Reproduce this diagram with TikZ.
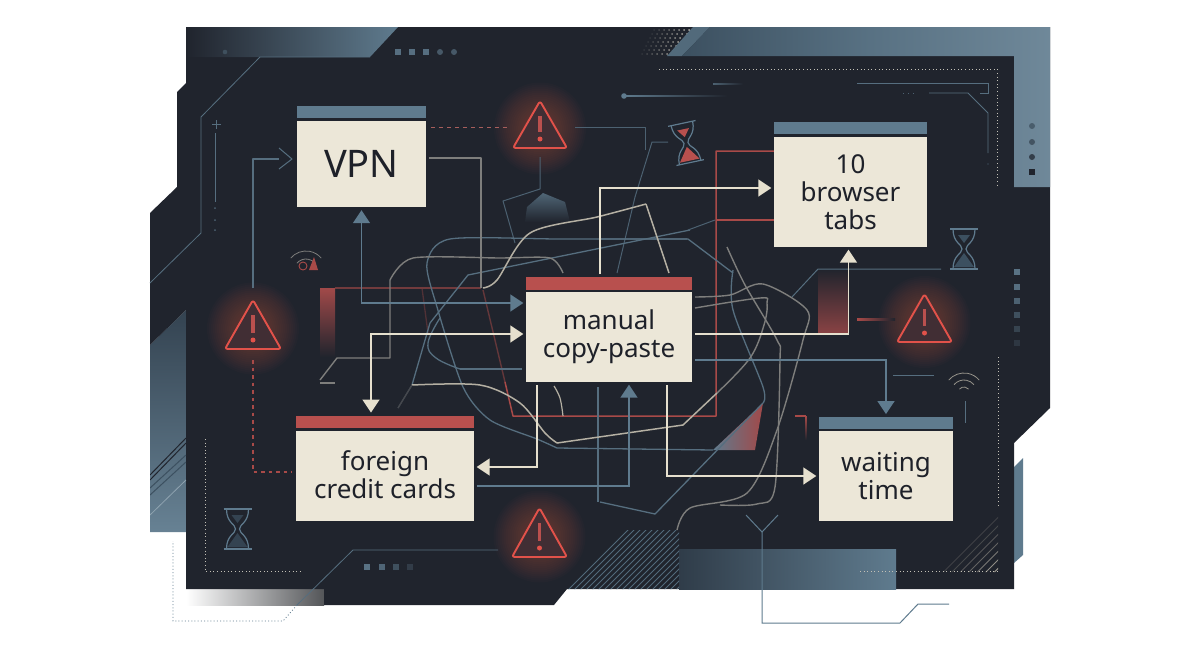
\documentclass[tikz,border=0pt]{standalone}
\usepackage{fontspec}
\setmainfont{Noto Sans}
\usetikzlibrary{arrows.meta,calc}
\definecolor{bgd}{HTML}{20242D}
\definecolor{sl}{HTML}{5F7B8E}
\definecolor{sld}{HTML}{3C5060}
\definecolor{crm}{HTML}{ECE7D8}
\definecolor{crml}{HTML}{E6E0CE}
\definecolor{rd}{HTML}{B8504E}
\definecolor{rdw}{HTML}{A84A48}
\definecolor{alert}{HTML}{E2524A}
\definecolor{gy}{HTML}{7E7E7C}
\definecolor{gyc}{HTML}{B5B0A3}
\definecolor{ink}{HTML}{1E2129}
\pgfdeclarelayer{front}
\pgfsetlayers{main,front}
\tikzset{
 hdr/.style={draw=none,inner sep=0pt,minimum height=12.5pt},
 hblue/.style={hdr,fill=sl},
 hred/.style={hdr,fill=rd},
 body/.style={draw=none,fill=crm,inner sep=0pt,align=center,text=ink,font=\fontsize{26}{28}\selectfont},
 bluearr/.style={draw=sl,line width=1.7pt,-{Triangle[length=13pt,width=17pt]},shorten >=2.5pt,shorten <=3pt},
 crmarr/.style={draw=crml,line width=1.7pt,-{Triangle[length=13pt,width=17pt]},shorten >=2.5pt,shorten <=3pt},
 wireb/.style={draw=sl!85!bgd,line width=1.3pt,line join=round},
 wirebd/.style={draw=sl!70!bgd,line width=1pt,line join=round},
 wireg/.style={draw=gy,line width=1.4pt,line join=round},
 wirec/.style={draw=gyc,line width=1.5pt,line join=round},
 wirer/.style={draw=rdw,line width=1.5pt,line join=round},
 thinb/.style={draw=sl!85!bgd,line width=.8pt},
 dotc/.style={draw=crm!80!bgd,line width=1pt,dash pattern=on 1pt off 2.6pt},
}
\newcommand{\warnglow}[3]{% cx, apex y, base y
 \foreach \r in {12,14,...,46} \fill[rd,opacity=.03] (#1,{(#2+#3)/2+4}) circle (\r);
}
\newcommand{\warnicon}[4]{% cx, apex y, base y, half width
 \draw[draw=alert,fill=rd!22!bgd,line width=1.9pt,line join=round,rounded corners=2.5pt] (#1,#2) -- (#1+#4,#3) -- (#1-#4,#3) -- cycle;
 \draw[rd!95!alert,line width=3.2pt] (#1,#2+15) -- (#1,#3-16);
 \fill[alert] (#1,#3-9) circle (2.5);
}
\newcommand{\hourglassicon}[4]{% cx, cy, rotation, sand colour
 \begin{scope}[shift={(#1,#2)},rotate=#3]
  \fill[#4] (-6,-14) -- (6,-14) -- (0,-6) -- cycle;
  \fill[#4] (0,4) -- (10,18) -- (-10,18) -- cycle;
  \draw[sl,line width=1.2pt] (-14,-20) -- (14,-20) (-14,20) -- (14,20);
  \draw[sl,line width=1.2pt] (-11,-20) .. controls (-11,-6) and (-2,-5) .. (-2,0) .. controls (-2,5) and (-11,6) .. (-11,20);
  \draw[sl,line width=1.2pt] (11,-20) .. controls (11,-6) and (2,-5) .. (2,0) .. controls (2,5) and (11,6) .. (11,20);
 \end{scope}
}
\begin{document}
\begin{tikzpicture}[x=1pt,y=-1pt]
\useasboundingbox (0,0) rectangle (1200,670);
\fill[white] (0,0) rectangle (1200,670);
% boxes
\begin{pgfonlayer}{front}
\node[hblue,minimum width=129pt] (vhead) at (361.5,112) {};
\node[body,minimum width=129pt,minimum height=86pt,font=\fontsize{38}{40}\selectfont] (vpn) at (361.5,164) {VPN};
\node[hblue,minimum width=153pt] (thead) at (850.5,128) {};
\node[body,minimum width=153pt,minimum height=110pt] (tabs) at (850.5,192) {10\\browser\\tabs};
\node[hred,minimum width=166pt] (mhead) at (609,283.5) {};
\node[body,minimum width=166pt,minimum height=90pt] (manual) at (609,337) {\raisebox{-2pt}{manual}\\\raisebox{-2pt}{copy-paste}};
\node[hred,minimum width=178pt] (fhead) at (385,422) {};
\node[body,minimum width=178pt,minimum height=90pt] (foreign) at (385,476) {\raisebox{2pt}{foreign}\\\raisebox{2pt}{credit cards}};
\node[hblue,minimum width=134pt] (whead) at (886,423) {};
\node[body,minimum width=134pt,minimum height=90pt] (waiting) at (886,476) {waiting\\time};
\end{pgfonlayer}
% left slate panel
\shade[top color=sld!70!bgd,bottom color=sl!95!white] (186,310) -- (150,345) -- (150,532) -- (186,532) -- cycle;
% right slate sliver
\fill[sl] (1014,467) -- (1023,458) -- (1023,555) -- (1014,563) -- cycle;
% bottom grey fade
\shade[left color=white,right color=gy!55!bgd] (186,589) rectangle (324,605);
% main dark plate
\fill[bgd] (186,27) -- (1050,27) -- (1050,408) -- (1014,443) -- (1014,589) -- (567,589) -- (554,605) -- (324,605) -- (324,589) -- (186,589) -- (186,532) -- (186,345) -- (186,310) -- (150,345) -- (150,213) -- (177,187) -- (177,92) -- (186,83) -- cycle;
% top-left slate
\shade[left color=bgd,right color=sl] (186,27) -- (398,27) -- (370,57) -- (186,57) -- cycle;
% top-right slate
\fill[sl!80!bgd] (667,56) -- (693,27) -- (710,27) -- (682,56) -- cycle;
\shade[left color=sld,right color=sl!90!white,middle color=sl!88!bgd] (682,56) -- (710,27) -- (1050,27) -- (1050,187) -- (1014,187) -- (1014,56) -- cycle;
% bottom slate
\shade[left color=sld!55!bgd,right color=sl] (679,549) rectangle (896,589);
% halftone
\begin{scope}
 \clip (600,27) -- (693,27) -- (667,56) -- (600,56) -- cycle;
 \foreach \i in {0,...,17} \foreach \j in {0,...,6} {
  \pgfmathsetmacro{\op}{max(0,min(1,(\i-5)/11))}
  \fill[crm,opacity=\op] ({612+5*\i+2*\j},{54-4*\j}) circle (1);
 }
\end{scope}
% left hatching
\begin{scope}
 \clip (150,345) rectangle (186,532);
 \draw[bgd,line width=1pt] (150,475) -- (186,438) (150,480) -- (186,443);
 \draw[sld,line width=1pt] (150,488) -- (186,455) (150,495) -- (186,462);
 \draw[sl!70!white,line width=.8pt] (150,515) -- (186,480);
\end{scope}
% bottom hatch
\begin{scope}
 \clip (567,589) -- (627,530) -- (679,530) -- (679,589) -- cycle;
 \foreach \i in {0,...,26} \draw[sl!80!bgd,line width=.9pt] ({560+6*\i},592) -- ({625+6*\i},527);
\end{scope}
% right hatch
\begin{scope}
 \clip (940,572) -- (998,512) -- (998,572) -- cycle;
 \foreach \i/\c in {0/15,1/20,2/25,3/35,4/45,5/60,6/75,7/90} \draw[gyc!\c!bgd,line width=1pt] ({930+8.5*\i},577) -- ({1000+8.5*\i},507);
\end{scope}
% glows
\warnglow{540}{101}{148}
\warnglow{253}{300}{349}
\warnglow{924.5}{294}{342}
\warnglow{539.5}{508}{557}
% frame lines
\draw[thinb] (150,283) -- (201,233) -- (201,117) -- (260,57) -- (370,57);
\draw[thinb] (498,550) -- (353,550) -- (297,605);
\draw[sl,line width=.8pt,dash pattern=on 1pt off 2.2pt] (297,605) -- (283,621) -- (173,621) -- (173,541);
\draw[thinb,line width=.7pt] (216,120) -- (216,129) (212,124) -- (221,124) (215,133) -- (215,202);
\foreach \y in {208,220,230} \fill[sl!70!bgd] (215,\y) circle (1);
\fill[sl!50!bgd] (225,52) circle (2.3);
\foreach \x in {398,412,426} \fill[sl!85!bgd] (\x-3,49) rectangle (\x+3,55);
\foreach \x in {440,454} \fill[sl!60!bgd] (\x,52) circle (3);
\foreach \x/\c in {367/90,382/75,396/50,410/28} \fill[sl!\c!bgd] (\x-3,564) rectangle (\x+3,570);
\foreach \y/\c in {272/90,287/85,301/70,315/50,329/35,343/22} \fill[sl!\c!bgd] (1014,\y-3) rectangle (1020,\y+3);
\foreach \y/\c in {126/35,142/45,157/70} \fill[bgd!\c!sl] (1032,\y) circle (3);
\fill[bgd] (1029,169) rectangle (1035,175);
% top right details
\draw[dotc] (659,69) -- (997,69) -- (997,185);
\draw[dotc] (998,357) -- (998,508);
\draw[dotc] (860,571) -- (998,571);
\draw[dotc] (205,439) -- (205,571) -- (303,571);
\shade[left color=sl!70!bgd,right color=bgd] (713,83) rectangle (743,84);
\fill[sl] (624,96) circle (2.8);
\shade[left color=sl,right color=bgd] (624,95.5) rectangle (727,96.5);
\draw[thinb] (857,83) -- (988,83) -- (988,93) -- (980,93);
\draw[thinb] (929,93) -- (968,93) -- (988,113) -- (988,153);
\draw[sl!70!bgd,line width=.8pt,dash pattern=on 1pt off 4pt] (903,93) -- (917,93);
\fill[sl!80!bgd] (988,164) circle (.7);
% red panels and faded bits
\shade[top color=rd!85!bgd,bottom color=bgd] (320,288) rectangle (335,357);
\shade[top color=bgd,bottom color=rd!70!bgd] (818,269) rectangle (848,334);
\draw[draw=rdw!35!bgd,line width=1.3pt] (422,288) -- (428,333);
\draw[rdw,line width=1.4pt] (795,416) -- (806,416);
\shade[top color=rdw,bottom color=bgd] (805.3,416) rectangle (806.8,440);
\shade[left color=rdw,right color=bgd] (857,318) rectangle (895,320);
% slate triangle
\shade[left color=sl,right color=rd!85!bgd] (713,450) -- (763,403) -- (755,450) -- cycle;
% pentagon
\shade[top color=sl!75!bgd,bottom color=bgd] (527,207) -- (543,193) -- (565,202) -- (570,222) -- (525,222) -- cycle;
% wires
\draw[draw=rdw!60!bgd,line width=1.4pt] (335,288) -- (481,288);
\draw[draw=rdw!50!bgd,line width=1.4pt] (483,290) -- (505,382);
\draw[wirer] (505,382) -- (513,416) -- (716,416) -- (716,151) -- (tabs.west |- 0,151);
\draw[wirer] (716,220) -- (tabs.west |- 0,220);
\draw[wireb] (253,288) |- (279,159);
\draw[wireb,line width=1pt] (279,148) -- (292,159) -- (279,169);
\draw[wirebd] (575,127) -- (645,127) -- (645,150);
\draw[wirebd] (668,142) -- (652,142) -- (635,197) -- (617,273);
\draw[wirebd] (540,157) -- (540,189) -- (503,201) -- (515,243);
\draw[wireb] plot[smooth,tension=.45] coordinates {(687,239) (560,239) (450,239) (427,263) (437,307) (463,387) (490,420) (537,439) (557,448)};
\draw[wireb] (557,448) -- (713,450);
\draw[wireb] (600,239) -- (688,239) -- (733,273);
\draw[wireb] plot[smooth,tension=.5] coordinates {(733,270) (733,310) (763,387) (763,403)};
\draw[wireb] (690,230) -- (468,275) -- (430,323) -- (412,385);
\draw[draw=sl!40!bgd,line width=1.2pt] (412,385) -- (398,408);
\draw[wireb] (522,369) -- (460,369);
\draw[wireb] plot[smooth,tension=.7] coordinates {(460,369) (436,358) (428,343) (440,318)};
\draw[wireb] (600,502) -- (655,514) -- (763,403);
\draw[wireb] (598,387) -- (598,502);
\draw[wireg] plot[smooth,tension=.45] coordinates {(563,273) (550,258) (500,258) (413,258) (390,280)};
\draw[wireg] (390,280) -- (390,358) -- (337,358) -- (320,380);
\draw[wireg] (320,383) -- (335,383);
\draw[wireg] (429,158) -- (481,158) -- (481,288);
\draw[wirec] plot[smooth,tension=.5] coordinates {(483,288) (497,280) (530,233) (597,217) (646,204)};
\draw[wirec] (646,204) -- (669,273);
\draw[wirebd] (688,230) -- (715,220);
\draw[wirec] plot[smooth,tension=.5] coordinates {(412,385) (480,385) (520,403) (545,433) (557,443)};
\draw[wirec] (557,443) -- (683,425) -- (717,393);
\draw[wireg] plot[smooth,tension=.6] coordinates {(717,393) (750,358) (764,325) (767,303) (760,298) (695,308)};
\draw[draw=gy!40!bgd,line width=1.3pt] (412,385) -- (398,408);
\draw[wireg] plot[smooth,tension=.5] coordinates {(695,297) (730,295) (763,284) (807,310) (803,340) (777,430) (747,493) (690,508) (677,530)};
\draw[wireg] plot[smooth,tension=.5] coordinates {(727,247) (745,285) (777,340) (780,360) (775,487) (757,504) (720,505)};
\draw[draw=gyc,line width=1.2pt] plot[smooth,tension=.6] coordinates {(554,386) (560,398) (563,416)};
\draw[thinb,line width=1pt] (792,297) -- (818,269) -- (941,269);
\draw[thinb,line width=1pt] (893,375) -- (934,375) (965,401) -- (965,423);
% antenna
\draw[draw=sl,line width=1pt] (746,515) -- (762,532) -- (778,515);
\draw[draw=sl,line width=1pt] (762,532) -- (762,623) -- (900,623) -- (918,604) -- (949,604);
% wifi icons
\foreach \r in {6,13,20} \draw[gyc!80!bgd,line width=.8pt] ($(964,393)+(220:\r)$) arc[start angle=220,end angle=320,radius=\r];
\foreach \r in {12,20} \draw[gy,line width=.8pt] ($(306,271)+(220:\r)$) arc[start angle=220,end angle=320,radius=\r];
\draw[rdw,line width=.9pt] (303,266) circle (4);
\fill[rdw] (309,270) -- (318,270) -- (314,257) -- cycle;
% hourglasses
\hourglassicon{686}{143}{12}{rd}
\hourglassicon{964}{249}{0}{sld}
\hourglassicon{237.5}{529}{0}{sld!70!bgd}
% dashed alerts links
\draw[draw=rd!70!gy,line width=.9pt,dash pattern=on 4pt off 4pt] (431,127) -- (508,127);
\draw[draw=rdw,line width=1.4pt,dash pattern=on 3.5pt off 4pt] (253,360) -- (253,472) -- (292,472);
% arrows
\draw[bluearr,{Triangle[length=13pt,width=17pt]}-{Triangle[length=13pt,width=17pt]}] (vpn.south) |- ([yshift=34pt]manual.west);
\draw[crmarr,{Triangle[length=13pt,width=17pt]}-{Triangle[length=13pt,width=17pt]}] ([xshift=-14pt]fhead.north) |- ([yshift=3pt]manual.west);
\draw[crmarr] ([xshift=-72pt]manual.south) |- ([yshift=9pt]foreign.east);
\draw[crmarr] ([xshift=58pt]manual.south) |- (waiting.west);
\draw[bluearr] ([yshift=-10pt]foreign.east) -| ([xshift=20pt]manual.south);
\draw[crmarr] ([xshift=-9pt]mhead.north) |- ([yshift=4pt]tabs.west);
\draw[crmarr] ([yshift=3pt]manual.east) -| ([xshift=-2pt]tabs.south);
\draw[bluearr] ([yshift=-23pt]manual.east) -| (whead.north);
% alerts
\warnicon{540}{101}{148}{27}
\warnicon{253}{300}{349}{28}
\warnicon{924.5}{294}{342}{27.5}
\warnicon{539.5}{508}{557}{27.5}
\end{tikzpicture}
\end{document}
